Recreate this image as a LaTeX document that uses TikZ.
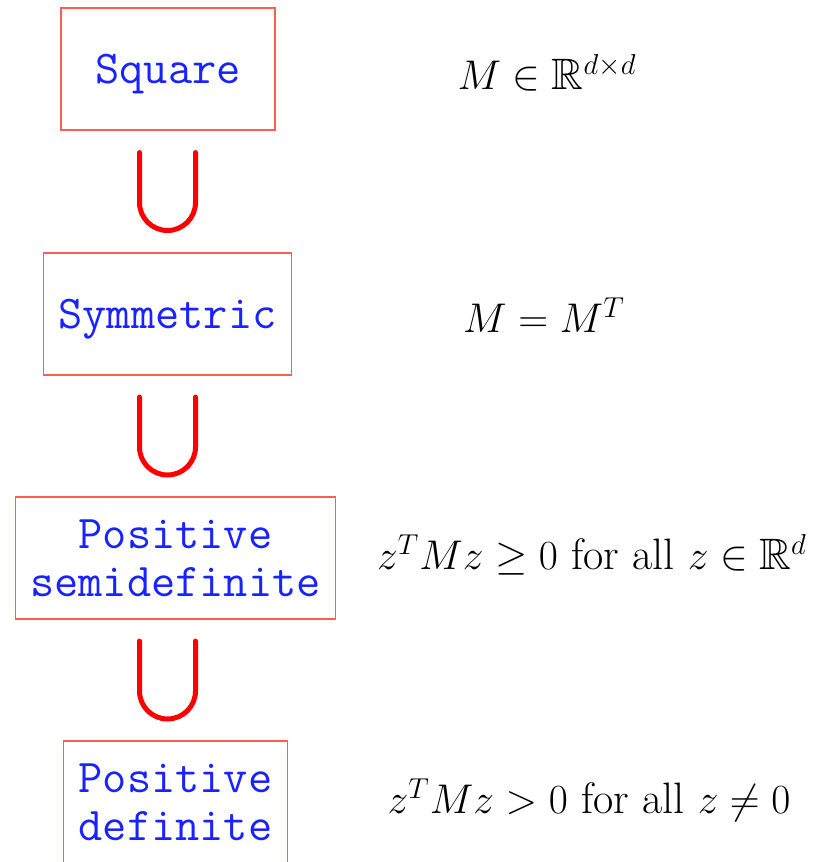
\documentclass[tikz,border=0pt]{standalone}
\usepackage{fontspec}
\usepackage{amssymb}
\usetikzlibrary{calc}
\definecolor{boxred}{RGB}{255,95,75}
\definecolor{textblue}{RGB}{25,35,255}
\begin{document}
\begin{tikzpicture}[x=0.5pt, y=-0.5pt,
    classbox/.style={draw=boxred, line width=0.75pt, minimum width=107pt, minimum height=61pt,
      inner xsep=7.5pt, text depth=0pt, align=center, text=textblue,
      font=\fontsize{23.5}{24}\selectfont\ttfamily},
    condtext/.style={font=\fontsize{22}{26}\selectfont},
    cupline/.style={draw=red, line width=2.5pt, line cap=round}]
  \useasboundingbox (0,0) rectangle (817,862);
  % Classes of matrices, from largest to smallest
  \foreach \name/\x/\y/\txt in {sq/168/69/Square, sym/167.5/314/Symmetric,
      psd/175.5/558/{Positive\\semidefinite}, pd/175.5/802/{Positive\\definite}}{
    \node[classbox] (\name) at (\x,\y) {\txt};
  }
  % Defining conditions beside each class
  \node[condtext] (sqc) at (547,73) {$M \in \mathbb{R}^{d\times d}$};
  \node[condtext] (symc) at (544,315) {$M = M^T$};
  \node[condtext] (psdc) at (592,555) {$z^T M z \geq 0$ for all $z \in \mathbb{R}^d$};
  \node[condtext] (pdc) at (589,800) {$z^T M z > 0$ for all $z \neq 0$};
  % Inclusion cups between consecutive classes
  \coordinate (cupaxis) at (167.5,0);
  \foreach \a/\b in {sq/sym, sym/psd, psd/pd}{
    \draw[cupline] ($(\a.south -| cupaxis)!0.5!(\b.north -| cupaxis)$)
      ++(-14pt,19.5pt) -- ++(0,-25pt) arc[start angle=180, end angle=360, radius=14pt] -- ++(0,25pt);
  }
\end{tikzpicture}
\end{document}
